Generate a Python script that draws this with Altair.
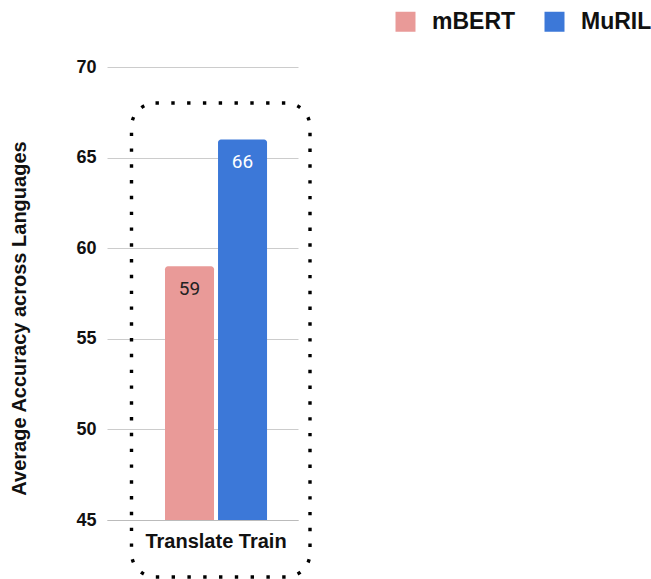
import altair as alt
import pandas as pd

categories = ["Translate Train"]
models = ["mBERT", "MuRIL"]
scores = [59, 66]
colors = ["#E99A98", "#3C78D8"]
y_ticks = [45, 50, 55, 60, 65, 70]

df = pd.DataFrame({
    "group": [categories[0]] * len(models),
    "model": models,
    "score": scores,
})

FONT = "Liberation Sans"

x_enc = alt.X(
    "group:N",
    scale=alt.Scale(paddingInner=0, paddingOuter=0.436, align=0.652),
    axis=alt.Axis(
        title=None, labelAngle=0, labelFont=FONT, labelFontSize=20,
        labelFontWeight="bold", labelColor="#111", labelPadding=11,
        ticks=False, grid=False, domainColor="#bbb", domainWidth=1,
    ),
)
xoff = alt.XOffset("model:N", sort=models,
                   scale=alt.Scale(paddingInner=0.0755, paddingOuter=0))
y_enc = alt.Y(
    "score:Q",
    scale=alt.Scale(domain=[45, 70], zero=False, nice=False),
    axis=alt.Axis(
        values=y_ticks, title="Average Accuracy across Languages",
        labelFont=FONT, labelFontSize=18, labelFontWeight="bold",
        labelColor="#111", labelPadding=11, ticks=False, domain=False,
        gridColor="#cccccc", gridWidth=1,
        titleFont=FONT, titleFontSize=20, titleFontWeight="bold",
        titleColor="#111", titleX=-88, titleY=251, titleAngle=270,
        titleAlign="center", titleBaseline="middle",
    ),
)

bars = alt.Chart(df).mark_bar(cornerRadiusTopLeft=3, cornerRadiusTopRight=3).encode(
    x=x_enc,
    xOffset=xoff,
    y=y_enc,
    y2=alt.datum(45),
    color=alt.Color(
        "model:N",
        scale=alt.Scale(domain=models, range=colors),
        legend=alt.Legend(
            title=None, orient="none", legendX=287, legendY=-57,
            direction="horizontal", symbolType="square", symbolSize=400,
            symbolStrokeWidth=0, labelFont=FONT, labelFontSize=23,
            labelFontWeight="bold", labelColor="#111", labelOffset=15,
            columnPadding=27, padding=0, symbolOpacity=1,
        ),
    ),
)

labels = alt.Chart(df).mark_text(
    font="Roboto", fontSize=19, dy=23, baseline="middle", align="center"
).encode(
    x=alt.X("group:N"),
    xOffset=alt.XOffset("model:N", sort=models),
    y=alt.Y("score:Q"),
    text=alt.Text("score:Q"),
    color=alt.condition("datum.model == 'MuRIL'", alt.value("white"), alt.value("#222")),
)

box = alt.Chart(pd.DataFrame({"k": [0]})).mark_rect(
    fillOpacity=0, stroke="black", strokeWidth=3.4,
    strokeDash=[3.4, 12.4], cornerRadius=24,
).encode(
    x=alt.value(24.5), x2=alt.value(203),
    y=alt.value(36), y2=alt.value(510),
)

chart = alt.layer(bars, labels, box).properties(
    width=191, height=453,
    background="white",
    autosize=alt.AutoSizeParams(type="none"),
    padding={"left": 107, "top": 67, "right": 353, "bottom": 59},
).configure_view(stroke=None)

chart.save("out.html", embed_options={"renderer": "svg", "actions": False})
